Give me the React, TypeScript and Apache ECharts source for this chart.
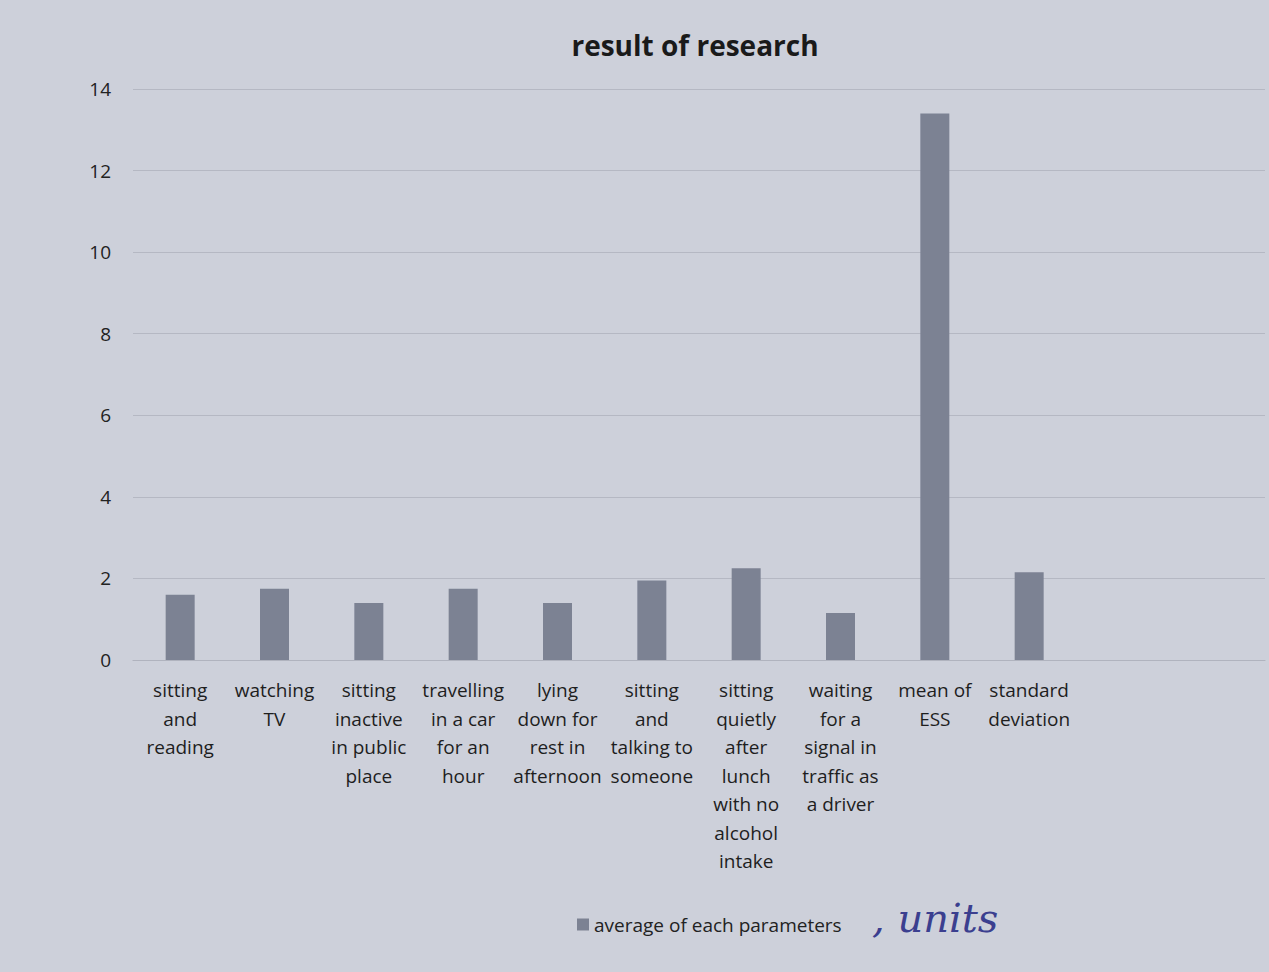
import React, { useEffect, useRef } from "react";
import * as echarts from "echarts";

const categories = [
  "sitting\nand\nreading",
  "watching\nTV",
  "sitting\ninactive\nin public\nplace",
  "travelling\nin a car\nfor an\nhour",
  "lying\ndown for\nrest in\nafternoon",
  "sitting\nand\ntalking to\nsomeone",
  "sitting\nquietly\nafter\nlunch\nwith no\nalcohol\nintake",
  "waiting\nfor a\nsignal in\ntraffic as\na driver",
  "mean of\nESS",
  "standard\ndeviation",
  "",
  "",
];
const averages: (number | null)[] = [1.6, 1.75, 1.4, 1.75, 1.4, 1.95, 2.25, 1.15, 13.4, 2.15, null, null];
const seriesName = "average of each parameters";
const titleText = "result of research";

export default function App() {
  const ref = useRef<HTMLDivElement>(null);
  useEffect(() => {
    const chart = echarts.init(ref.current!, null, { renderer: "svg" });
    chart.setOption({
      animation: false,
      backgroundColor: "#cdd0da",
      title: {
        text: titleText,
        left: 690,
        textAlign: "center",
        top: 26,
        textStyle: { fontFamily: "Open Sans", fontWeight: "bold", fontSize: 28, color: "#1a1a1a" },
      },
      legend: {
        data: [seriesName],
        left: 572,
        top: 910,
        icon: "rect",
        itemWidth: 12,
        itemHeight: 12,
        itemGap: 6,
        textStyle: { fontFamily: "Open Sans", fontSize: 19, color: "#222" },
      },
      grid: { left: 133, right: 4, top: 89, bottom: 312, containLabel: false },
      xAxis: {
        type: "category",
        data: categories,
        axisLine: { show: true, lineStyle: { color: "#b0b3be", width: 1.2 } },
        axisTick: { show: false },
        axisLabel: {
          interval: 0,
          margin: 16,
          fontFamily: "Open Sans",
          fontSize: 19,
          lineHeight: 28.5,
          color: "#1e1e1e",
          align: "center",
        },
      },
      yAxis: {
        type: "value",
        min: 0,
        max: 14,
        interval: 2,
        axisLine: { show: false },
        axisTick: { show: false },
        splitLine: { lineStyle: { color: "#b5b8c3", width: 1.2 } },
        axisLabel: { fontFamily: "Open Sans", fontSize: 19, color: "#222", margin: 22 },
      },
      series: [
        {
          name: seriesName,
          type: "bar",
          data: averages,
          barWidth: 29,
          itemStyle: { color: "#7c8293" },
        },
      ],
      graphic: [
        {
          type: "text",
          left: 872,
          top: 898,
          style: {
            text: ", units",
            font: "italic 40px 'DejaVu Serif'",
            fill: "#3b3f8f",
          },
        },
      ],
    });
    return () => chart.dispose();
  }, []);
  return <div ref={ref} style={{ position: "fixed", left: 0, top: 0, width: 1269, height: 972 }} />;
}
